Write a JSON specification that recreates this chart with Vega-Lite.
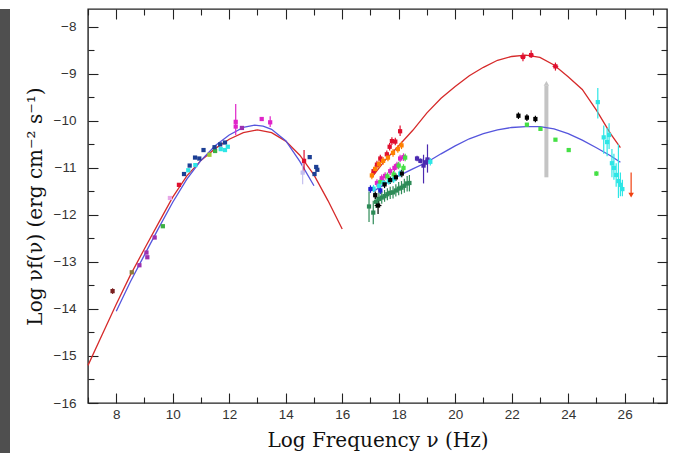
{
  "$schema": "https://vega.github.io/schema/vega-lite/v6.json",
  "padding": {"left": 0, "top": 7, "right": 6, "bottom": 0},
  "background": "white",
  "spacing": 78,
  "bounds": "flush",
  "config": {
    "view": {"stroke": "#222", "strokeWidth": 1.4},
    "axis": {
      "domain": false, "grid": false, "tickColor": "#222", "tickWidth": 1.1,
      "labelFont": "Liberation Sans", "labelFontSize": 13.5, "labelColor": "#333",
      "titleFont": "DejaVu Serif", "titleFontSize": 20, "titleFontWeight": "normal", "titleColor": "#111"
    }
  },
  "datasets": {
    "curves": [
      {"c": "redcurve", "s": "r1", "x": 7.0, "y": -15.2},
      {"c": "redcurve", "s": "r1", "x": 7.5, "y": -14.55},
      {"c": "redcurve", "s": "r1", "x": 8.0, "y": -13.9},
      {"c": "redcurve", "s": "r1", "x": 8.5, "y": -13.28},
      {"c": "redcurve", "s": "r1", "x": 9.0, "y": -12.72},
      {"c": "redcurve", "s": "r1", "x": 9.5, "y": -12.17},
      {"c": "redcurve", "s": "r1", "x": 10.0, "y": -11.62},
      {"c": "redcurve", "s": "r1", "x": 10.5, "y": -11.17},
      {"c": "redcurve", "s": "r1", "x": 11.0, "y": -10.84},
      {"c": "redcurve", "s": "r1", "x": 11.5, "y": -10.59},
      {"c": "redcurve", "s": "r1", "x": 12.0, "y": -10.39},
      {"c": "redcurve", "s": "r1", "x": 12.5, "y": -10.25},
      {"c": "redcurve", "s": "r1", "x": 13.0, "y": -10.19},
      {"c": "redcurve", "s": "r1", "x": 13.5, "y": -10.25},
      {"c": "redcurve", "s": "r1", "x": 14.0, "y": -10.43},
      {"c": "redcurve", "s": "r1", "x": 14.5, "y": -10.73},
      {"c": "redcurve", "s": "r1", "x": 15.0, "y": -11.15},
      {"c": "redcurve", "s": "r1", "x": 15.5, "y": -11.7},
      {"c": "redcurve", "s": "r1", "x": 16.0, "y": -12.3},
      {"c": "redcurve", "s": "r2", "x": 17.05, "y": -11.2},
      {"c": "redcurve", "s": "r2", "x": 17.5, "y": -10.85},
      {"c": "redcurve", "s": "r2", "x": 18.0, "y": -10.53},
      {"c": "redcurve", "s": "r2", "x": 18.5, "y": -10.2},
      {"c": "redcurve", "s": "r2", "x": 19.0, "y": -9.83},
      {"c": "redcurve", "s": "r2", "x": 19.5, "y": -9.52},
      {"c": "redcurve", "s": "r2", "x": 20.0, "y": -9.27},
      {"c": "redcurve", "s": "r2", "x": 20.5, "y": -9.04},
      {"c": "redcurve", "s": "r2", "x": 21.0, "y": -8.86},
      {"c": "redcurve", "s": "r2", "x": 21.5, "y": -8.71},
      {"c": "redcurve", "s": "r2", "x": 22.0, "y": -8.63},
      {"c": "redcurve", "s": "r2", "x": 22.5, "y": -8.6},
      {"c": "redcurve", "s": "r2", "x": 23.0, "y": -8.65},
      {"c": "redcurve", "s": "r2", "x": 23.5, "y": -8.81},
      {"c": "redcurve", "s": "r2", "x": 24.0, "y": -9.06},
      {"c": "redcurve", "s": "r2", "x": 24.5, "y": -9.33},
      {"c": "redcurve", "s": "r2", "x": 25.0, "y": -9.77},
      {"c": "redcurve", "s": "r2", "x": 25.5, "y": -10.27},
      {"c": "redcurve", "s": "r2", "x": 25.85, "y": -10.57},
      {"c": "bluecurve", "s": "b1", "x": 8.0, "y": -14.05},
      {"c": "bluecurve", "s": "b1", "x": 8.5, "y": -13.42},
      {"c": "bluecurve", "s": "b1", "x": 9.0, "y": -12.85},
      {"c": "bluecurve", "s": "b1", "x": 9.5, "y": -12.28},
      {"c": "bluecurve", "s": "b1", "x": 10.0, "y": -11.73},
      {"c": "bluecurve", "s": "b1", "x": 10.5, "y": -11.24},
      {"c": "bluecurve", "s": "b1", "x": 11.0, "y": -10.84},
      {"c": "bluecurve", "s": "b1", "x": 11.5, "y": -10.53},
      {"c": "bluecurve", "s": "b1", "x": 12.0, "y": -10.3},
      {"c": "bluecurve", "s": "b1", "x": 12.5, "y": -10.14},
      {"c": "bluecurve", "s": "b1", "x": 12.9, "y": -10.09},
      {"c": "bluecurve", "s": "b1", "x": 13.2, "y": -10.11},
      {"c": "bluecurve", "s": "b1", "x": 13.5, "y": -10.18},
      {"c": "bluecurve", "s": "b1", "x": 14.0, "y": -10.42},
      {"c": "bluecurve", "s": "b1", "x": 14.5, "y": -10.86},
      {"c": "bluecurve", "s": "b1", "x": 15.0, "y": -11.38},
      {"c": "bluecurve", "s": "b2", "x": 17.1, "y": -11.5},
      {"c": "bluecurve", "s": "b2", "x": 17.5, "y": -11.35},
      {"c": "bluecurve", "s": "b2", "x": 18.0, "y": -11.17},
      {"c": "bluecurve", "s": "b2", "x": 18.5, "y": -11.02},
      {"c": "bluecurve", "s": "b2", "x": 19.0, "y": -10.88},
      {"c": "bluecurve", "s": "b2", "x": 19.5, "y": -10.7},
      {"c": "bluecurve", "s": "b2", "x": 20.0, "y": -10.53},
      {"c": "bluecurve", "s": "b2", "x": 20.5, "y": -10.38},
      {"c": "bluecurve", "s": "b2", "x": 21.0, "y": -10.27},
      {"c": "bluecurve", "s": "b2", "x": 21.5, "y": -10.19},
      {"c": "bluecurve", "s": "b2", "x": 22.0, "y": -10.14},
      {"c": "bluecurve", "s": "b2", "x": 22.5, "y": -10.12},
      {"c": "bluecurve", "s": "b2", "x": 23.0, "y": -10.12},
      {"c": "bluecurve", "s": "b2", "x": 23.5, "y": -10.17},
      {"c": "bluecurve", "s": "b2", "x": 24.0, "y": -10.27},
      {"c": "bluecurve", "s": "b2", "x": 24.5, "y": -10.41},
      {"c": "bluecurve", "s": "b2", "x": 25.0, "y": -10.57},
      {"c": "bluecurve", "s": "b2", "x": 25.5, "y": -10.74},
      {"c": "bluecurve", "s": "b2", "x": 25.85, "y": -10.88}
    ],
    "pts": [
      {"x": 7.87, "y": -13.62, "ylo": -13.68, "yhi": -13.56, "c": "brown"},
      {"x": 8.55, "y": -13.22, "c": "olive"},
      {"x": 8.82, "y": -13.07, "c": "purple"},
      {"x": 9.07, "y": -12.8, "c": "purple"},
      {"x": 9.1, "y": -12.9, "c": "purple"},
      {"x": 9.36, "y": -12.48, "c": "purple"},
      {"x": 9.65, "y": -12.24, "c": "green"},
      {"x": 9.9, "y": -11.64, "c": "pink"},
      {"x": 10.22, "y": -11.36, "c": "red"},
      {"x": 10.4, "y": -11.13, "c": "navy"},
      {"x": 10.55, "y": -11.05, "c": "cyan"},
      {"x": 10.6, "y": -10.95, "c": "navy"},
      {"x": 10.79, "y": -10.78, "c": "navy"},
      {"x": 10.94, "y": -10.8, "c": "navy"},
      {"x": 10.8, "y": -10.94, "c": "cyan"},
      {"x": 11.09, "y": -10.62, "c": "navy"},
      {"x": 11.3, "y": -10.72, "c": "ygreen"},
      {"x": 11.5, "y": -10.64, "c": "green"},
      {"x": 11.48, "y": -10.56, "c": "navy"},
      {"x": 11.68, "y": -10.5, "c": "navy"},
      {"x": 11.85, "y": -10.46, "c": "navy"},
      {"x": 11.7, "y": -10.6, "c": "cyan"},
      {"x": 11.85, "y": -10.62, "c": "cyan"},
      {"x": 11.95, "y": -10.55, "c": "cyan"},
      {"x": 12.23, "y": -10.02, "ylo": -10.3, "yhi": -9.64, "c": "magenta"},
      {"x": 12.23, "y": -10.12, "c": "magenta"},
      {"x": 12.45, "y": -10.15, "c": "purple"},
      {"x": 13.15, "y": -9.96, "c": "magenta"},
      {"x": 13.45, "y": -10.03, "ylo": -10.13, "yhi": -9.9, "c": "magenta"},
      {"x": 14.6, "y": -11.1, "ylo": -11.35, "yhi": -10.88, "c": "lavender"},
      {"x": 14.65, "y": -10.85, "ylo": -11.1, "yhi": -10.62, "c": "red"},
      {"x": 14.85, "y": -10.77, "c": "navy"},
      {"x": 15.02, "y": -11.13, "c": "navy"},
      {"x": 15.08, "y": -10.98, "c": "navy"},
      {"x": 15.12, "y": -11.04, "c": "navy"},

      {"x": 16.95, "y": -11.82, "xlo": 16.9, "xhi": 17.0, "ylo": -12.15, "yhi": -11.5, "c": "seagreen"},
      {"x": 17.1, "y": -11.95, "xlo": 17.05, "xhi": 17.15, "ylo": -12.2, "yhi": -11.7, "c": "seagreen"},
      {"x": 17.2, "y": -11.72, "xlo": 17.15, "xhi": 17.25, "ylo": -11.85, "yhi": -11.58, "c": "seagreen"},
      {"x": 17.3, "y": -11.66, "xlo": 17.25, "xhi": 17.35, "ylo": -11.8, "yhi": -11.52, "c": "seagreen"},
      {"x": 17.4, "y": -11.63, "xlo": 17.35, "xhi": 17.45, "ylo": -11.76, "yhi": -11.5, "c": "seagreen"},
      {"x": 17.5, "y": -11.6, "xlo": 17.45, "xhi": 17.55, "ylo": -11.72, "yhi": -11.47, "c": "seagreen"},
      {"x": 17.6, "y": -11.56, "xlo": 17.55, "xhi": 17.65, "ylo": -11.69, "yhi": -11.43, "c": "seagreen"},
      {"x": 17.7, "y": -11.53, "xlo": 17.65, "xhi": 17.75, "ylo": -11.66, "yhi": -11.4, "c": "seagreen"},
      {"x": 17.8, "y": -11.52, "xlo": 17.75, "xhi": 17.85, "ylo": -11.65, "yhi": -11.39, "c": "seagreen"},
      {"x": 17.9, "y": -11.48, "xlo": 17.85, "xhi": 17.95, "ylo": -11.61, "yhi": -11.35, "c": "seagreen"},
      {"x": 18.0, "y": -11.44, "xlo": 17.95, "xhi": 18.05, "ylo": -11.58, "yhi": -11.3, "c": "seagreen"},
      {"x": 18.1, "y": -11.42, "xlo": 18.05, "xhi": 18.15, "ylo": -11.56, "yhi": -11.28, "c": "seagreen"},
      {"x": 18.2, "y": -11.38, "xlo": 18.15, "xhi": 18.25, "ylo": -11.53, "yhi": -11.23, "c": "seagreen"},
      {"x": 18.3, "y": -11.33, "xlo": 18.25, "xhi": 18.35, "ylo": -11.5, "yhi": -11.17, "c": "seagreen"},
      {"x": 18.38, "y": -11.32, "xlo": 18.33, "xhi": 18.43, "ylo": -11.5, "yhi": -11.15, "c": "seagreen"},

      {"x": 17.11, "y": -11.07, "xlo": 17.05, "xhi": 17.17, "ylo": -11.15, "yhi": -10.99, "c": "red"},
      {"x": 17.23, "y": -10.93, "xlo": 17.17, "xhi": 17.29, "ylo": -11.01, "yhi": -10.85, "c": "red"},
      {"x": 17.35, "y": -10.8, "xlo": 17.29, "xhi": 17.41, "ylo": -10.88, "yhi": -10.72, "c": "red"},
      {"x": 17.58, "y": -10.71, "xlo": 17.52, "xhi": 17.64, "ylo": -10.79, "yhi": -10.63, "c": "red"},
      {"x": 17.68, "y": -10.55, "xlo": 17.62, "xhi": 17.74, "ylo": -10.63, "yhi": -10.47, "c": "red"},
      {"x": 17.76, "y": -10.43, "xlo": 17.7, "xhi": 17.82, "ylo": -10.51, "yhi": -10.35, "c": "red"},
      {"x": 17.88, "y": -10.44, "xlo": 17.82, "xhi": 17.94, "ylo": -10.52, "yhi": -10.36, "c": "red"},
      {"x": 18.05, "y": -10.22, "xlo": 17.99, "xhi": 18.11, "ylo": -10.32, "yhi": -10.1, "c": "red"},

      {"x": 17.05, "y": -11.16, "xlo": 16.99, "xhi": 17.11, "ylo": -11.24, "yhi": -11.08, "c": "orange"},
      {"x": 17.17, "y": -11.02, "xlo": 17.11, "xhi": 17.23, "ylo": -11.1, "yhi": -10.94, "c": "orange"},
      {"x": 17.3, "y": -10.92, "xlo": 17.24, "xhi": 17.36, "ylo": -11.0, "yhi": -10.84, "c": "orange"},
      {"x": 17.45, "y": -10.85, "xlo": 17.39, "xhi": 17.51, "ylo": -10.93, "yhi": -10.77, "c": "orange"},
      {"x": 17.62, "y": -10.78, "xlo": 17.56, "xhi": 17.68, "ylo": -10.86, "yhi": -10.7, "c": "orange"},
      {"x": 17.8, "y": -10.68, "xlo": 17.74, "xhi": 17.86, "ylo": -10.76, "yhi": -10.6, "c": "orange"},
      {"x": 17.97, "y": -10.6, "xlo": 17.91, "xhi": 18.03, "ylo": -10.68, "yhi": -10.52, "c": "orange"},
      {"x": 18.1, "y": -10.52, "xlo": 18.04, "xhi": 18.16, "ylo": -10.6, "yhi": -10.44, "c": "orange"},

      {"x": 17.23, "y": -11.32, "xlo": 17.17, "xhi": 17.29, "ylo": -11.4, "yhi": -11.24, "c": "magenta"},
      {"x": 17.4, "y": -11.22, "xlo": 17.34, "xhi": 17.46, "ylo": -11.3, "yhi": -11.14, "c": "magenta"},
      {"x": 17.52, "y": -11.17, "xlo": 17.46, "xhi": 17.58, "ylo": -11.25, "yhi": -11.09, "c": "magenta"},
      {"x": 17.7, "y": -11.07, "xlo": 17.64, "xhi": 17.76, "ylo": -11.15, "yhi": -10.99, "c": "magenta"},
      {"x": 17.85, "y": -11.0, "xlo": 17.79, "xhi": 17.91, "ylo": -11.08, "yhi": -10.92, "c": "magenta"},
      {"x": 17.94, "y": -10.95, "xlo": 17.88, "xhi": 18.0, "ylo": -11.03, "yhi": -10.87, "c": "magenta"},
      {"x": 18.05, "y": -10.8, "xlo": 17.99, "xhi": 18.11, "ylo": -10.88, "yhi": -10.72, "c": "magenta"},
      {"x": 18.17, "y": -10.77, "xlo": 18.11, "xhi": 18.23, "ylo": -10.85, "yhi": -10.69, "c": "magenta"},

      {"x": 17.35, "y": -11.3, "xlo": 17.29, "xhi": 17.41, "ylo": -11.38, "yhi": -11.22, "c": "lime"},
      {"x": 17.6, "y": -11.18, "xlo": 17.54, "xhi": 17.66, "ylo": -11.26, "yhi": -11.1, "c": "lime"},
      {"x": 17.82, "y": -11.14, "xlo": 17.76, "xhi": 17.88, "ylo": -11.22, "yhi": -11.06, "c": "lime"},
      {"x": 18.0, "y": -10.95, "xlo": 17.94, "xhi": 18.06, "ylo": -11.03, "yhi": -10.87, "c": "lime"},
      {"x": 18.17, "y": -11.0, "xlo": 18.11, "xhi": 18.23, "ylo": -11.08, "yhi": -10.92, "c": "lime"},
      {"x": 18.23, "y": -10.78, "xlo": 18.17, "xhi": 18.29, "ylo": -10.86, "yhi": -10.7, "c": "lime"},

      {"x": 17.11, "y": -11.44, "xlo": 17.05, "xhi": 17.17, "ylo": -11.52, "yhi": -11.36, "c": "cyan"},
      {"x": 17.3, "y": -11.38, "xlo": 17.24, "xhi": 17.36, "ylo": -11.46, "yhi": -11.3, "c": "cyan"},
      {"x": 17.46, "y": -11.32, "xlo": 17.4, "xhi": 17.52, "ylo": -11.4, "yhi": -11.24, "c": "cyan"},
      {"x": 17.65, "y": -11.28, "xlo": 17.59, "xhi": 17.71, "ylo": -11.36, "yhi": -11.2, "c": "cyan"},
      {"x": 17.82, "y": -11.24, "xlo": 17.76, "xhi": 17.88, "ylo": -11.32, "yhi": -11.16, "c": "cyan"},
      {"x": 18.05, "y": -11.12, "xlo": 17.99, "xhi": 18.11, "ylo": -11.2, "yhi": -11.04, "c": "cyan"},

      {"x": 17.0, "y": -11.45, "xlo": 16.94, "xhi": 17.06, "ylo": -11.53, "yhi": -11.37, "c": "blue"},
      {"x": 17.35, "y": -11.48, "xlo": 17.29, "xhi": 17.41, "ylo": -11.56, "yhi": -11.4, "c": "blue"},

      {"x": 17.17, "y": -11.58, "xlo": 17.11, "xhi": 17.23, "ylo": -11.66, "yhi": -11.5, "c": "black"},
      {"x": 17.27, "y": -11.8, "xlo": 17.15, "xhi": 17.39, "ylo": -11.98, "yhi": -11.62, "c": "black"},
      {"x": 17.5, "y": -11.35, "xlo": 17.44, "xhi": 17.56, "ylo": -11.43, "yhi": -11.27, "c": "black"},
      {"x": 17.7, "y": -11.26, "xlo": 17.64, "xhi": 17.76, "ylo": -11.34, "yhi": -11.18, "c": "black"},
      {"x": 17.9, "y": -11.2, "xlo": 17.84, "xhi": 17.96, "ylo": -11.28, "yhi": -11.12, "c": "black"},
      {"x": 18.11, "y": -11.12, "xlo": 18.05, "xhi": 18.17, "ylo": -11.2, "yhi": -11.04, "c": "black"},

      {"x": 18.65, "y": -10.8, "xlo": 18.6, "xhi": 18.7, "ylo": -10.86, "yhi": -10.74, "c": "indigo"},
      {"x": 18.77, "y": -10.85, "xlo": 18.7, "xhi": 18.84, "ylo": -10.9, "yhi": -10.8, "c": "indigo"},
      {"x": 18.88, "y": -10.95, "xlo": 18.82, "xhi": 18.94, "ylo": -11.33, "yhi": -10.72, "c": "indigo"},
      {"x": 18.97, "y": -10.88, "xlo": 18.92, "xhi": 19.02, "ylo": -10.94, "yhi": -10.82, "c": "indigo"},
      {"x": 19.02, "y": -10.82, "xlo": 18.96, "xhi": 19.08, "ylo": -11.1, "yhi": -10.5, "c": "indigo"},
      {"x": 19.12, "y": -10.87, "xlo": 19.06, "xhi": 19.18, "ylo": -10.95, "yhi": -10.79, "c": "cyan"},

      {"x": 22.24, "y": -9.89, "ylo": -9.96, "yhi": -9.82, "c": "black"},
      {"x": 22.54, "y": -9.93, "ylo": -10.0, "yhi": -9.86, "c": "black"},
      {"x": 22.84, "y": -9.96, "ylo": -10.03, "yhi": -9.89, "c": "black"},
      {"x": 22.54, "y": -10.08, "c": "lime"},
      {"x": 23.02, "y": -10.17, "c": "lime"},
      {"x": 23.55, "y": -10.4, "c": "lime"},
      {"x": 24.02, "y": -10.62, "c": "lime"},
      {"x": 25.0, "y": -11.12, "ylo": -11.17, "yhi": -11.07, "c": "lime"},
      {"x": 22.4, "y": -8.64, "xlo": 22.3, "xhi": 22.5, "ylo": -8.73, "yhi": -8.55, "c": "red"},
      {"x": 22.69, "y": -8.6, "xlo": 22.6, "xhi": 22.78, "ylo": -8.66, "yhi": -8.5, "c": "red"},
      {"x": 23.55, "y": -8.84, "xlo": 23.45, "xhi": 23.65, "ylo": -8.93, "yhi": -8.76, "c": "red"},

      {"x": 25.05, "y": -9.6, "ylo": -9.95, "yhi": -9.3, "c": "cyan"},
      {"x": 25.26, "y": -10.35, "ylo": -10.7, "yhi": -10.1, "c": "cyan"},
      {"x": 25.38, "y": -10.45, "ylo": -10.75, "yhi": -10.15, "c": "cyan"},
      {"x": 25.45, "y": -10.3, "ylo": -10.6, "yhi": -10.05, "c": "cyan"},
      {"x": 25.55, "y": -10.9, "ylo": -11.2, "yhi": -10.6, "c": "cyan"},
      {"x": 25.62, "y": -11.0, "ylo": -11.25, "yhi": -10.7, "c": "cyan"},
      {"x": 25.7, "y": -11.15, "ylo": -11.4, "yhi": -10.9, "c": "cyan"},
      {"x": 25.78, "y": -11.28, "ylo": -11.64, "yhi": -10.5, "c": "cyan"},
      {"x": 25.85, "y": -11.36, "ylo": -11.6, "yhi": -11.1, "c": "cyan"},
      {"x": 25.92, "y": -11.45, "ylo": -11.6, "yhi": -11.25, "c": "cyan"},
      {"x": 26.23, "ylo": -11.55, "yhi": -11.1, "c": "orangered"}
    ],
    "band": [
      {"x": 23.23, "ylo": -11.2, "yhi": -9.25, "c": "gray"}
    ],
    "arrows": [
      {"x": 23.23, "y": -9.2, "c": "gray", "d": "up"},
      {"x": 26.23, "y": -11.58, "c": "orangered", "d": "down"}
    ]
  },
  "hconcat": [
    {
      "width": 10,
      "height": 446,
      "view": {"fill": "#4f4f4f", "stroke": null},
      "data": {"values": []},
      "mark": "point",
      "encoding": {}
    },
    {
      "width": 579,
      "height": 394,
      "resolve": {"axis": {"x": "independent", "y": "independent"}},
      "layer": [
        {
          "data": {"name": "band"},
          "mark": {"type": "rule", "strokeWidth": 4, "color": "#c4c4c4"},
          "encoding": {
            "x": {"field": "x", "type": "quantitative", "scale": {"domain": [7, 27.5], "nice": false, "zero": false},
              "axis": {"orient": "bottom", "values": [8, 10, 12, 14, 16, 18, 20, 22, 24, 26], "tickSize": -10, "labelPadding": 14, "title": "Log Frequency ν (Hz)", "titlePadding": 10}},
            "y": {"field": "ylo", "type": "quantitative", "scale": {"domain": [-16, -7.62], "nice": false, "zero": false},
              "axis": {"orient": "left", "values": [-16, -15, -14, -13, -12, -11, -10, -9, -8], "tickSize": -10, "labelPadding": 22, "title": "Log νf(ν) (erg cm⁻² s⁻¹)", "titlePadding": 8}},
            "y2": {"field": "yhi"}
          }
        },
        {
          "data": {"name": "curves"},
          "mark": {"type": "line", "strokeWidth": 1.3},
          "encoding": {
            "x": {"field": "x", "type": "quantitative",
              "axis": {"orient": "top", "values": [8, 10, 12, 14, 16, 18, 20, 22, 24, 26], "tickSize": -10, "labels": false, "title": null}},
            "y": {"field": "y", "type": "quantitative",
              "axis": {"orient": "right", "values": [-16, -15, -14, -13, -12, -11, -10, -9, -8], "tickSize": -10, "labels": false, "title": null}},
            "detail": {"field": "s"},
            "color": {"field": "c", "type": "nominal", "legend": null,
              "scale": {
                "domain": ["redcurve", "bluecurve", "brown", "olive", "purple", "green", "pink", "red", "navy", "cyan", "ygreen", "magenta", "lavender", "orange", "lime", "black", "blue", "seagreen", "indigo", "gray", "orangered"],
                "range": ["#d62a2a", "#5555dd", "#7a1f1f", "#8a7a3a", "#9b30b0", "#3cb043", "#e7a6e7", "#e0102f", "#1c3f94", "#2ee6e6", "#9acd32", "#e023c8", "#c5c0f0", "#ff8000", "#45e045", "#000000", "#2020d0", "#2e8b57", "#4b2ab0", "#c4c4c4", "#f04010"]
              }}
          }
        },
        {
          "data": {"name": "pts"},
          "transform": [{"filter": "isValid(datum.ylo)"}],
          "mark": {"type": "rule", "strokeWidth": 1.2},
          "encoding": {
            "x": {"field": "x", "type": "quantitative",
              "axis": {"orient": "bottom", "values": [7, 9, 11, 13, 15, 17, 19, 21, 23, 25, 27], "tickSize": -6, "labels": false, "title": null}},
            "y": {"field": "ylo", "type": "quantitative",
              "axis": {"orient": "left", "values": [-15.5, -14.5, -13.5, -12.5, -11.5, -10.5, -9.5, -8.5], "tickSize": -6, "labels": false, "title": null}},
            "y2": {"field": "yhi"},
            "color": {"field": "c", "type": "nominal", "legend": null}
          }
        },
        {
          "data": {"name": "pts"},
          "transform": [{"filter": "isValid(datum.xlo)"}],
          "mark": {"type": "rule", "strokeWidth": 1.2},
          "encoding": {
            "x": {"field": "xlo", "type": "quantitative",
              "axis": {"orient": "top", "values": [7, 9, 11, 13, 15, 17, 19, 21, 23, 25, 27], "tickSize": -6, "labels": false, "title": null}},
            "x2": {"field": "xhi"},
            "y": {"field": "y", "type": "quantitative",
              "axis": {"orient": "right", "values": [-15.5, -14.5, -13.5, -12.5, -11.5, -10.5, -9.5, -8.5], "tickSize": -6, "labels": false, "title": null}},
            "color": {"field": "c", "type": "nominal", "legend": null}
          }
        },
        {
          "data": {"name": "pts"},
          "transform": [{"filter": "isValid(datum.y)"}],
          "mark": {"type": "point", "shape": "square", "filled": true, "size": 18, "opacity": 1},
          "encoding": {
            "x": {"field": "x", "type": "quantitative", "axis": null},
            "y": {"field": "y", "type": "quantitative", "axis": null},
            "color": {"field": "c", "type": "nominal", "legend": null}
          }
        },
        {
          "data": {"name": "arrows"},
          "mark": {"type": "point", "filled": true, "size": 30, "opacity": 1},
          "encoding": {
            "x": {"field": "x", "type": "quantitative", "axis": null},
            "y": {"field": "y", "type": "quantitative", "axis": null},
            "shape": {"field": "d", "type": "nominal", "legend": null, "scale": {"domain": ["up", "down"], "range": ["triangle-up", "triangle-down"]}},
            "color": {"field": "c", "type": "nominal", "legend": null}
          }
        }
      ]
    }
  ]
}
